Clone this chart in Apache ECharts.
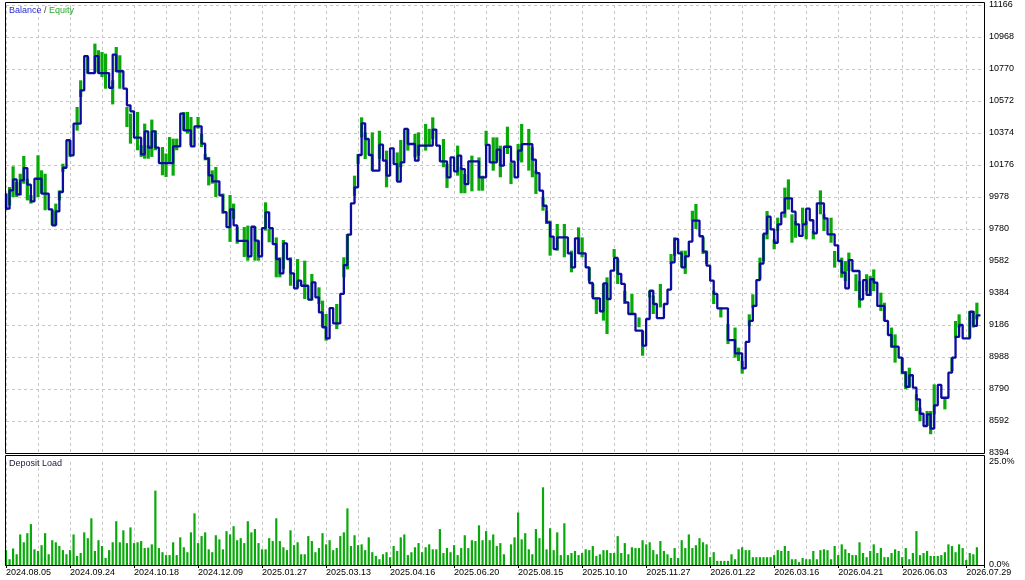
<!DOCTYPE html>
<html>
<head>
<meta charset="utf-8">
<script src="https://cdn.jsdelivr.net/npm/echarts@6/dist/echarts.min.js"></script>
<style>html,body{margin:0;padding:0;background:#fff}#c{width:1025px;height:580px}</style>
</head>
<body>
<div id="c"></div>
<script>
// x values are deal numbers (0..275)
const dateLabels = ['2024.08.05','2024.09.24','2024.10.18','2024.12.09','2025.01.27','2025.03.13','2025.04.16','2025.06.20','2025.08.15','2025.10.10','2025.11.27','2026.01.22','2026.03.16','2026.04.21','2026.06.03','2026.07.29'];
const balanceTicks = [8394,8592,8790,8988,9186,9384,9582,9780,9978,10176,10374,10572,10770,10968,11166];
const depositTicks = [0, 25];

// balance: [deal, balance] at each change
const balance = [
[0,10000],[0,9906],[1,10019],[2,10087],[3,9994],[4,10081],[5,10157],[6,10054],[7,9951],[8,10091],[10,9999],[12,9902],[13,9803],[14,9889],[15,10009],[16,10159],[17,10329],[18,10236],[19,10432],[21,10638],[22,10850],[23,10745],[25,10850],[26,10745],[29,10654],[30,10859],[31,10756],[33,10648],[34,10545],[35,10508],[36,10345],[38,10242],[39,10384],[40,10283],[41,10384],[42,10283],[43,10188],[47,10291],[49,10494],[50,10390],[52,10291],[53,10415],[55,10308],[56,10215],[57,10112],[58,10075],[60,9988],[61,9885],[62,9792],[63,9902],[64,9803],[65,9706],[68,9611],
[69,9794],[70,9708],[71,9611],[72,9786],[73,9883],[74,9786],[75,9687],[76,9594],[77,9506],[78,9691],[79,9594],[80,9506],[81,9413],[82,9460],[83,9429],[85,9343],[86,9450],[87,9357],[88,9264],[89,9172],[90,9103],[91,9291],[92,9196],[94,9378],[95,9557],[96,9745],[97,9939],[98,10038],[99,10238],[100,10434],[101,10337],[102,10238],[103,10141],[105,10302],[106,10203],[107,10110],[108,10279],[109,10182],[110,10073],[111,10192],[112,10399],[113,10306],[115,10203],[116,10296],[120,10395],[121,10296],[122,10199],[124,10100],[125,10223],[126,10137],[127,10234],[128,10151],[129,10058],[130,10199],[133,10100],[135,10300],[136,10192],
[138,10271],[139,10172],[140,10289],[142,10197],[143,10100],[144,10265],[145,10305],[148,10209],[149,10126],[150,10017],[151,9924],[152,9821],[153,9733],[154,9656],[155,9728],[158,9629],[159,9543],[160,9722],[161,9629],[163,9543],[164,9446],[165,9351],[167,9271],[168,9444],[169,9347],[170,9522],[171,9601],[172,9502],[173,9440],[174,9326],[175,9254],[177,9151],[179,9058],[180,9223],[181,9398],[182,9316],[183,9229],[185,9316],[186,9405],[187,9574],[188,9718],[189,9629],[190,9543],[191,9611],[192,9702],[193,9832],[195,9735],[196,9640],[197,9553],[198,9460],[199,9378],[200,9289],[203,9093],[205,9011],
[207,8918],[208,9081],[209,9211],[210,9304],[211,9464],[212,9566],[213,9751],[214,9856],[215,9778],[216,9695],[217,9809],[218,9881],[219,9970],[221,9887],[222,9809],[223,9737],[224,9809],[225,9906],[226,9834],[227,9753],[228,9939],[230,9846],[231,9747],[233,9679],[234,9582],[235,9510],[236,9413],[237,9588],[238,9520],[240,9345],[241,9464],[242,9372],[243,9469],[244,9448],[245,9304],[247,9211],[248,9124],[249,9052],[251,8984],[252,8891],[253,8804],[254,8875],[255,8798],[256,8726],[257,8637],[258,8561],[259,8633],[260,8545],[261,8689],[262,8815],[263,8736],[265,8891],[266,8984],[267,9112],[268,9186],[269,9103],[271,9268],[272,9180],[273,9246],[274,9246]
];

// equity swings: [deal, low, high]
const equity = [
[0,9896,9999],[1,9926,10040],[2,9978,10168],[3,9978,10071],[4,9988,10122],[5,10060,10232],[6,9957,10091],[7,9937,9990],[9,9978,10236],[10,9999,10143],[11,9896,10122],[13,9803,9896],[14,9803,9937],[15,9957,10019],[16,10133,10184],[18,10226,10329],[20,10389,10535],[21,10597,10700],[23,10741,10844],[25,10751,10927],[26,10741,10886],[27,10720,10875],[28,10648,10865],[30,10551,10700],[31,10751,10906],[32,10648,10855],[34,10411,10535],[35,10308,10494],[37,10267,10504],[38,10226,10298],[39,10215,10432],[40,10215,10298],[41,10226,10457],[42,10267,10390],[44,10112,10287],[45,10102,10247],[46,10184,10349],[47,10110,10339],[48,10267,10339],[50,10390,10504],[51,10370,10504],[52,10298,10473],[54,10401,10473],[55,10287,10370],[56,10205,10245],[57,10050,10226],[58,10060,10143],[59,9978,10164],[61,9874,10000],[63,9700,9990],[64,9842,9937],[65,9689,9792],[67,9607,9792],
[68,9584,9801],[70,9584,9794],[71,9584,9708],[73,9770,9945],[74,9698,9780],[76,9481,9728],[77,9481,9605],[78,9533,9712],[80,9429,9605],[82,9419,9594],[84,9347,9584],[86,9337,9502],[88,9316,9419],[89,9172,9337],[90,9089,9254],[93,9161,9316],[95,9481,9605],[96,9530,9749],[98,9986,10110],[99,10182,10244],[100,10347,10471],[101,10213,10378],[103,10141,10378],[105,10213,10388],[107,10038,10265],[110,10079,10254],[111,10162,10331],[113,10265,10399],[115,10223,10368],[116,10234,10378],[118,10265,10430],[119,10296,10400],[120,10337,10471],[123,10162,10337],[124,10034,10182],[127,10110,10296],[128,10001,10162],[129,10001,10120],[131,10013,10234],[133,10017,10223],[134,10017,10110],[135,10296,10388],[137,10141,10347],
[138,10203,10347],[139,10100,10296],[141,10244,10413],[142,10058,10192],[144,10203,10306],[145,10192,10430],[147,10141,10399],[148,10100,10285],[149,9997,10141],[151,9893,9976],[152,9811,9893],[153,9615,9832],[155,9646,9811],[157,9605,9811],[159,9512,9646],[161,9625,9790],[162,9605,9728],[164,9460,9543],[165,9357,9440],[166,9254,9357],[168,9213,9440],[169,9130,9481],[171,9605,9656],[172,9440,9594],[174,9316,9398],[176,9254,9378],[178,9172,9233],[179,8996,9151],[181,9357,9398],[182,9254,9368],[184,9295,9440],[187,9563,9625],[188,9615,9728],[190,9543,9646],[191,9502,9646],[193,9832,9893],[194,9780,9935],[196,9625,9728],[197,9563,9646],[199,9316,9398],[201,9233,9295],[203,9068,9192],[205,8984,9170],
[206,8963,9046],[207,8885,8963],[209,9180,9252],[210,9293,9376],[212,9469,9603],[213,9582,9747],[214,9716,9891],[216,9654,9716],[217,9768,9850],[219,9850,10036],[220,9900,10087],[221,9695,9871],[222,9726,9829],[224,9809,9912],[225,9716,9829],[227,9716,9768],[229,9871,10019],[230,9768,9871],[232,9695,9850],[233,9541,9644],[235,9479,9603],[236,9458,9582],[237,9520,9634],[239,9396,9500],[240,9293,9458],[242,9396,9500],[243,9365,9489],[244,9396,9530],[246,9273,9386],[247,9211,9324],[249,9046,9170],[250,8953,9128],[252,8881,8984],[253,8788,8901],[254,8798,8922],[256,8654,8757],[257,8592,8675],[259,8561,8654],[260,8510,8654],[261,8633,8819],[264,8664,8736],[266,8901,8984],[267,9108,9211],[268,9170,9252],[271,9108,9273],[272,9170,9273],[273,9221,9324]
];

// deposit load % per deal (0 = no bar)
const depositLoad = [
3.6,1.4,4.0,2.6,7.4,5.5,7.7,9.9,3.8,3.4,
4.8,7.7,2.6,6.0,5.5,4.6,3.6,2.6,3.6,7.4,
2.2,2.9,7.9,6.5,11.3,3.4,6.0,4.6,1.7,3.6,
5.5,10.6,5.5,8.4,5.3,9.1,5.3,5.5,5.8,4.1,
4.2,5.0,18.0,4.1,3.1,2.4,2.4,5.5,2.4,6.7,
4.3,3.1,7.9,12.5,5.3,7.0,7.9,3.8,3.1,7.2,
6.2,3.8,8.2,7.4,9.4,6.0,6.5,5.3,10.6,7.9,
8.7,5.3,3.8,3.8,6.5,5.8,11.3,5.8,4.3,3.6,
8.4,4.8,5.5,2.6,2.6,7.0,5.8,3.1,4.1,7.7,
5.0,6.0,3.6,4.1,7.0,7.9,13.7,4.6,7.2,4.8,
5.0,3.6,6.7,3.1,2.2,1.4,2.6,3.1,1.9,4.6,
3.4,6.7,7.4,2.4,3.1,4.3,5.3,3.1,4.3,5.0,
3.8,3.8,8.7,2.9,4.1,3.1,4.8,2.4,4.1,7.2,
4.1,6.0,5.8,9.6,6.0,8.2,6.0,7.4,4.6,5.3,
2.6,0,
5.0,6.7,12.7,6.2,7.7,3.8,2.6,8.7,6.5,18.8,
3.8,8.9,3.6,7.9,2.4,10.1,2.4,2.9,3.4,2.4,
2.9,3.8,3.6,4.6,2.2,2.6,3.6,3.6,2.9,2.9,
7.0,2.9,5.3,2.6,4.3,4.1,4.1,6.0,5.0,5.5,
3.6,2.6,5.8,3.4,2.6,1.7,4.1,1.7,6.0,4.1,
7.4,4.1,4.8,6.5,5.5,5.0,1.9,3.1,1.0,1.0,
1.0,1.0,2.6,1.4,3.8,4.3,3.6,3.6,1.9,1.9,
1.9,1.9,1.9,1.9,2.4,3.6,3.4,4.6,3.4,1.4,
1.4,0.7,1.7,1.4,1.4,3.4,1.4,3.6,3.8,3.6,
1.4,4.6,2.4,5.0,3.8,2.9,2.4,2.4,5.5,2.9,
1.9,3.4,5.0,2.9,4.1,1.9,1.9,2.9,3.8,3.4,
1.9,4.1,1.4,2.9,8.2,2.4,2.9,3.4,2.2,2.2,
2.2,2.4,3.1,5.0,4.6,3.1,5.0,4.1,1.2,2.9,
2.6,4.3
];

const FONT = '"Liberation Sans", Arial, sans-serif';
const BLUE = '#0c0c9e';
const GREEN = '#0aa90a';
const gridDash = {show:true, lineStyle:{color:'#c6c6c6', type:[3,3], width:1}};

const chart = echarts.init(document.getElementById('c'), null, {renderer:'canvas'});
chart.setOption({
  animation:false,
  backgroundColor:'#ffffff',
  grid:[
    {left:6, top:5, width:978, height:448},
    {left:6, top:461.7, width:978, height:103.3}
  ],
  xAxis:[
    {gridIndex:0, type:'value', min:0, max:275, interval:9, axisLine:{show:false}, axisTick:{show:false}, axisLabel:{show:false}, splitLine:gridDash},
    {gridIndex:1, type:'value', min:0, max:275, interval:9, axisLine:{show:false}, axisTick:{show:false}, axisLabel:{show:false}, splitLine:gridDash},
    {gridIndex:1, type:'value', min:0, max:275, interval:18, position:'bottom',
     axisLine:{show:true, lineStyle:{color:'#000', width:1}},
     axisTick:{show:true, length:3, lineStyle:{color:'#000'}},
     axisLabel:{show:true, formatter:v => (v % 18 === 0 && dateLabels[v/18]) ? dateLabels[v/18] : '', align:'left', margin:3, fontSize:9, color:'#000', fontFamily:FONT, showMaxLabel:true, showMinLabel:true},
     splitLine:{show:false}}
  ],
  yAxis:[
    {gridIndex:0, type:'value', min:balanceTicks[0], max:balanceTicks[balanceTicks.length-1], axisLine:{show:false}, axisTick:{show:false}, axisLabel:{show:false}, splitLine:{show:false}},
    {gridIndex:0, type:'value', min:0, max:balanceTicks.length-1, interval:1, position:'right',
     axisLine:{show:false}, axisTick:{show:false},
     axisLabel:{formatter:v => String(balanceTicks[v]), margin:5, fontSize:9, color:'#000', fontFamily:FONT, showMinLabel:true, showMaxLabel:true},
     splitLine:gridDash},
    {gridIndex:1, type:'value', min:depositTicks[0], max:depositTicks[1], interval:25, position:'right',
     axisLine:{show:false}, axisTick:{show:false},
     axisLabel:{formatter:v => v.toFixed(1) + '%', margin:5, fontSize:9, color:'#000', fontFamily:FONT, showMinLabel:true, showMaxLabel:true},
     splitLine:{show:false}}
  ],
  series:[
    {type:'custom', xAxisIndex:0, yAxisIndex:0, data:equity, encode:{x:0, y:[1,2]}, clip:true, z:2,
     renderItem:function(params, api){
       const d = api.value(0), lo = api.value(1), hi = api.value(2);
       const a = api.coord([d, hi]), b = api.coord([d, lo]);
       return {type:'rect', shape:{x:a[0]-1.6, y:a[1], width:3.2, height:Math.max(1, b[1]-a[1])}, style:{fill:GREEN}};
     }},
    {type:'line', xAxisIndex:0, yAxisIndex:0, data:balance, step:'end', symbol:'none', z:3,
     lineStyle:{color:BLUE, width:2.3}},
    {type:'bar', xAxisIndex:2, yAxisIndex:2, data:depositLoad.map((v,i)=>[i,v]).filter(p=>p[1]>0), barWidth:2.2,
     itemStyle:{color:GREEN}}
  ],
  graphic:[
    {type:'rect', silent:true, z:100, shape:{x:5.5, y:2.5, width:979, height:451}, style:{fill:null, stroke:'#000', lineWidth:1}},
    {type:'rect', silent:true, z:100, shape:{x:5.5, y:455.5, width:979, height:110}, style:{fill:null, stroke:'#000', lineWidth:1}},
    {type:'text', silent:true, z:101, left:9, top:6, style:{text:'{b|Balance} / {e|Equity}', fill:'#444', font:'9px ' + FONT,
      rich:{b:{fill:'#2a2ad0', font:'9px ' + FONT}, e:{fill:'#2aa82a', font:'9px ' + FONT}}}},
    {type:'text', silent:true, z:101, left:9, top:459, style:{text:'Deposit Load', fill:'#1a1a3a', font:'9px ' + FONT}}
  ]
});
</script>
</body>
</html>
